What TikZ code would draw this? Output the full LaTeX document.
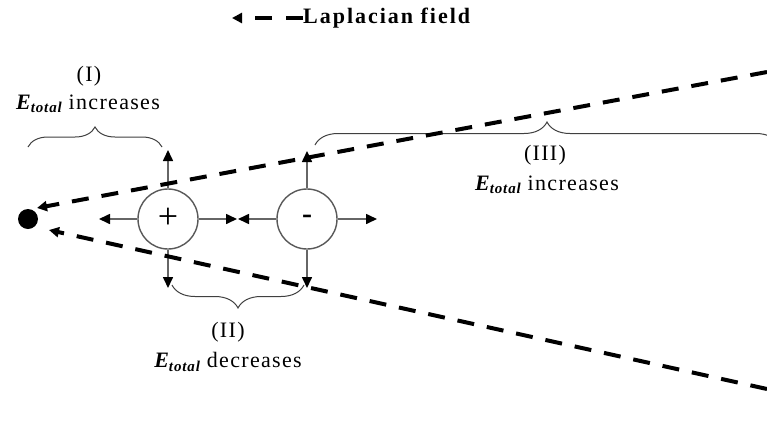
\documentclass[tikz,border=0pt]{standalone}
\usepackage{fontspec}
\setmainfont{Liberation Serif}[LetterSpace=6]
\newfontfamily\legendfont{Liberation Serif}[LetterSpace=9]
\newfontfamily\plainfont{Liberation Serif}
\usetikzlibrary{arrows.meta,decorations.pathreplacing}
\newcommand\Etot{{\bfseries\itshape E\raisebox{-0.35ex}{\fontsize{15}{15}\selectfont total}}}
\tikzset{
  field/.style={line width=4pt, dash pattern=on 17pt off 13pt, black},
  fieldtip/.style={-{Triangle[length=10pt,width=10pt]}},
  farrow/.style={line width=1.6pt, black!60, -{Triangle[length=11pt,width=10pt,color=black,fill=black]}},
  charge/.style={circle, draw=black!65, line width=1.4pt, fill=white, minimum size=60pt, inner sep=0pt},
  bracebox/.style={decorate, decoration={brace, amplitude=#1}, line width=1pt, black!75},
  lbl/.style={font=\fontsize{22}{24}\selectfont, inner sep=0pt, align=center},
}
\begin{document}
\begin{tikzpicture}[x=1pt,y=-1pt]
\useasboundingbox (0,0) rectangle (767,434);
\fill[white] (0,0) rectangle (767,434);

% legend
\node[lbl, anchor=west, font=\legendfont\fontsize{22}{24}\selectfont\bfseries] (legend) at (303,18) {Laplacian field};
\coordinate (legtip) at (232,18);
\draw[field, dash pattern=on 17pt off 14pt, fieldtip] (legend.west) -- (legtip);

% braces
\coordinate (b1s) at (28,147);
\coordinate (b1e) at (162,147);
\draw[bracebox=20pt] (b1s) -- (b1e);
\coordinate (b2s) at (304,285);
\coordinate (b2e) at (172,285);
\draw[bracebox=23pt] (b2s) -- (b2e);
\coordinate (b3s) at (315,145);
\coordinate (b3e) at (779,145);
\draw[bracebox=23pt] (b3s) -- (b3e);

% labels
\node[lbl] (l1a) at (89,76) {(I)};
\node[lbl] (l1b) at (88,104) {\Etot{} increases};
\node[lbl] (l2a) at (228,332) {(II)};
\node[lbl] (l2b) at (228,362) {\Etot{} decreases};
\node[lbl] (l3a) at (545,155) {(III)};
\node[lbl] (l3b) at (547,185) {\Etot{} increases};

% charges
\node[charge] (pos) at (168,219) {\plainfont\fontsize{36}{36}\selectfont\raisebox{0.5pt}{+}};
\node[charge] (neg) at (307,219) {\plainfont\fontsize{30}{30}\selectfont\bfseries -};

\coordinate (pU) at (168,150);
\coordinate (pD) at (168,288);
\coordinate (pL) at (99,219);
\coordinate (pR) at (237,219);
\coordinate (nU) at (307,151);
\coordinate (nD) at (307,288);
\coordinate (nL) at (238,219);
\coordinate (nR) at (377,219);
\draw[farrow] (pos.north) -- (pU);
\draw[farrow] (pos.south) -- (pD);
\draw[farrow] (pos.west) -- (pL);
\draw[farrow] (pos.east) -- (pR);
\draw[farrow] (neg.north) -- (nU);
\draw[farrow] (neg.south) -- (nD);
\draw[farrow] (neg.west) -- (nL);
\draw[farrow] (neg.east) -- (nR);

% sink and field lines
\node[circle, fill=black, minimum size=20pt, inner sep=0pt] (sink) at (28,219) {};
\coordinate (uTip) at (37,208);
\coordinate (uFar) at (767,72);
\coordinate (lTip) at (49,230);
\coordinate (lFar) at (767,389);
\draw[field, fieldtip] (uFar) -- (uTip);
\draw[field, fieldtip] (lFar) -- (lTip);
\end{tikzpicture}
\end{document}
